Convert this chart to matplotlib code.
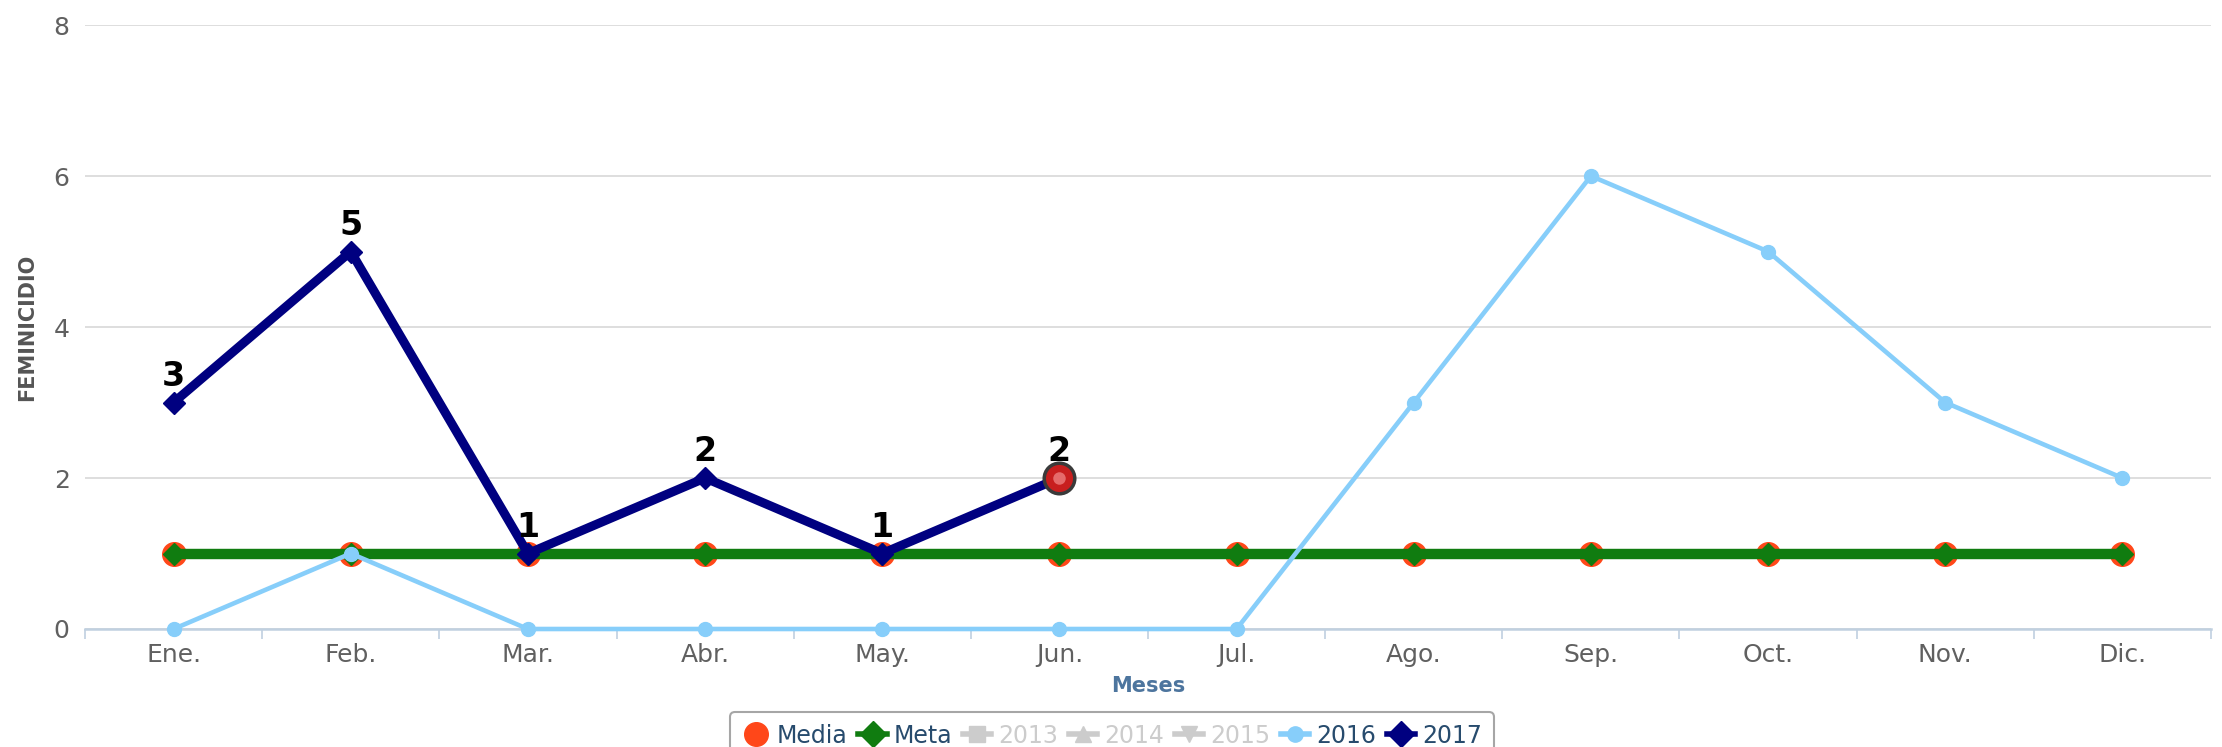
import matplotlib.pyplot as plt
from matplotlib.lines import Line2D

plt.rcParams['font.family'] = ['DejaVu Sans']

meses = ["Ene.", "Feb.", "Mar.", "Abr.", "May.", "Jun.",
         "Jul.", "Ago.", "Sep.", "Oct.", "Nov.", "Dic."]
media = [1, 1, 1, 1, 1, 1, 1, 1, 1, 1, 1, 1]
meta = [1, 1, 1, 1, 1, 1, 1, 1, 1, 1, 1, 1]
serie_2016 = [0, 1, 0, 0, 0, 0, 0, 3, 6, 5, 3, 2]
serie_2017 = [3, 5, 1, 2, 1, 2]

x = list(range(len(meses)))
x17 = x[:len(serie_2017)]

fig = plt.figure(figsize=(22.22, 7.47), dpi=100)
ax = fig.add_axes([85 / 2222, 1 - 629 / 747, (2211 - 85) / 2222, (629 - 25) / 747])

# series, bottom to top
ax.plot(x, media, linestyle='none', marker='o', markersize=17,
        color='#ff4719', zorder=3, clip_on=False)
ax.plot(x, meta, color='#107c10', linewidth=7.5, marker='D', markersize=11,
        zorder=4, clip_on=False)
ax.plot(x, serie_2016, color='#87cefa', linewidth=3.3, marker='o', markersize=10,
        zorder=5, clip_on=False)
ax.plot(x17, serie_2017, color='#000080', linewidth=6.5, marker='D', markersize=11.5,
        zorder=6, clip_on=False)

# data labels for 2017
for xi, v in zip(x17, serie_2017):
    ax.annotate(str(v), (xi, v), xytext=(0, 7), textcoords='offset points',
                ha='center', va='bottom', fontsize=24, fontweight='bold',
                color='black', zorder=7, annotation_clip=False)

# hovered point (Jun. 2017)
ax.plot([x17[-1]], [serie_2017[-1]], marker='o', markersize=22, color='#c81e1e',
        markeredgecolor='#3a3a3a', markeredgewidth=2.5, zorder=8, clip_on=False)
ax.plot([x17[-1]], [serie_2017[-1]], marker='o', markersize=9, color='#e56a6a',
        markeredgewidth=0, zorder=9, clip_on=False)

ax.set_xlim(-0.5, 11.5)
ax.set_ylim(0, 8)
ax.set_yticks([0, 2, 4, 6, 8])
ax.set_xticks(x)
ax.set_xticklabels(meses)
ax.set_xticks([i - 0.5 for i in range(13)], minor=True)
ax.tick_params(axis='x', which='major', length=0, pad=10, labelsize=18, labelcolor='#606060')
ax.tick_params(axis='x', which='minor', length=7, width=1.2, color='#c0d0e0')
ax.tick_params(axis='y', length=0, pad=11, labelsize=18, labelcolor='#606060')

ax.grid(axis='y', color='#d8d8d8', linewidth=1.2, zorder=0)
ax.set_axisbelow(True)
for s in ['top', 'right', 'left']:
    ax.spines[s].set_visible(False)
ax.spines['bottom'].set_color('#c0d0e0')
ax.spines['bottom'].set_linewidth(1.8)

fig.text(27 / 2222, 1 - 327 / 747, "FEMINICIDIO", rotation=90, ha='center', va='center',
         fontsize=15, fontweight='bold', color='#555555')
fig.text(1148 / 2222, 1 - 686 / 747, "Meses", ha='center', va='center',
         fontsize=15, fontweight='bold', color='#4d759e')

# legend
gris = '#cccccc'
handles = [
    Line2D([], [], linestyle='none', marker='o', markersize=17, color='#ff4719'),
    Line2D([], [], color='#107c10', linewidth=4, marker='D', markersize=13),
    Line2D([], [], color=gris, linewidth=4, marker='s', markersize=11),
    Line2D([], [], color=gris, linewidth=4, marker='^', markersize=12),
    Line2D([], [], color=gris, linewidth=4, marker='v', markersize=12),
    Line2D([], [], color='#87cefa', linewidth=4, marker='o', markersize=11),
    Line2D([], [], color='#000080', linewidth=4, marker='D', markersize=13),
]
labels = ["Media", "Meta", "2013", "2014", "2015", "2016", "2017"]
leg = fig.legend(handles, labels, loc='upper center', bbox_to_anchor=(1112 / 2222, 1 - 700 / 747),
                 ncol=7, fontsize=17, frameon=True, fancybox=True, handlelength=1.2,
                 handletextpad=0.3, columnspacing=0.45, borderpad=0.5, edgecolor='#909090')
leg.get_frame().set_linewidth(1.5)
colores = ['#274b6d', '#274b6d', gris, gris, gris, '#274b6d', '#274b6d']
for t, c in zip(leg.get_texts(), colores):
    t.set_color(c)

fig.savefig("out.png", dpi=100)
